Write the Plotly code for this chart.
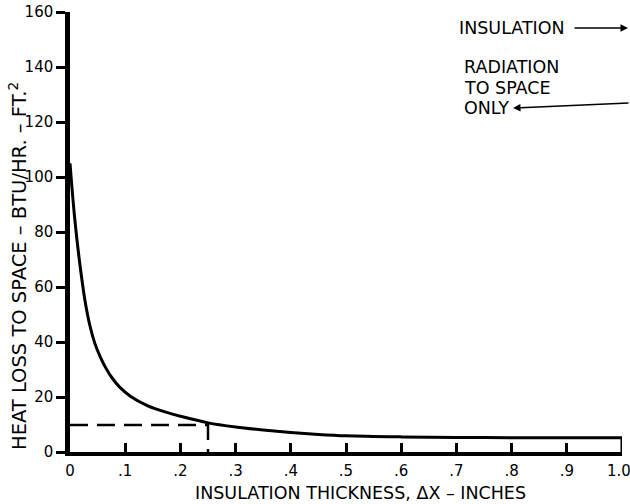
import plotly.graph_objects as go

# ---- data ----
thickness = [0, 0.004, 0.008, 0.0127, 0.02, 0.028, 0.036, 0.045, 0.055, 0.065, 0.076, 0.09,
             0.11, 0.14, 0.175, 0.2, 0.25, 0.3, 0.35, 0.4, 0.45, 0.5, 0.6, 0.7, 0.8, 0.9, 1.0]
heat_loss = [105, 95, 86, 77, 65, 54, 46, 39.5, 34.5, 30.5, 27, 23.6,
             20.2, 16.9, 14.4, 13.0, 10.6, 9.1, 8.0, 7.1, 6.4, 5.9, 5.5, 5.3, 5.2, 5.2, 5.2]
marker_x = 0.25
marker_y = 9.8
x_ticks = [0, 0.1, 0.2, 0.3, 0.4, 0.5, 0.6, 0.7, 0.8, 0.9, 1.0]
x_tick_labels = ["0", ".1", ".2", ".3", ".4", ".5", ".6", ".7", ".8", ".9", "1.0"]
y_ticks = [0, 20, 40, 60, 80, 100, 120, 140, 160]

W, H = 630, 504
ML, MR, MT, MB = 70, 8, 12, 52
PW, PH = W - ML - MR, H - MT - MB


def px(xp):
    return (xp - ML) / PW


def py(yp):
    return (H - MB - yp) / PH


FONT = "DejaVu Sans"
fig = go.Figure()

fig.add_trace(go.Scatter(x=thickness, y=heat_loss, mode="lines",
                         line=dict(color="black", width=3, shape="spline", smoothing=0.9),
                         hoverinfo="skip", showlegend=False))
# closing edge of the band at the right end
fig.add_trace(go.Scatter(x=[thickness[-1], thickness[-1]], y=[heat_loss[-1], 0], mode="lines",
                         line=dict(color="black", width=3), showlegend=False))
# dashed read-off lines
fig.add_trace(go.Scatter(x=[0, marker_x, marker_x], y=[marker_y, marker_y, 0], mode="lines",
                         line=dict(color="black", width=2.5, dash="18px,9px"), showlegend=False))

# the last tick label sits at the page edge; it is drawn as a right-aligned annotation
shown_ticktext = x_tick_labels[:-1] + [""]
fig.update_xaxes(range=[0, 1.0], tickvals=x_ticks, ticktext=shown_ticktext, automargin=False,
                 ticks="inside", ticklen=9, tickwidth=2.5, tickcolor="black",
                 ticklabelstandoff=2,
                 showline=True, linewidth=4, linecolor="black", showgrid=False, zeroline=False,
                 tickfont=dict(family=FONT, size=15, color="black"))
fig.update_yaxes(range=[0, 160], tickvals=y_ticks, automargin=False,
                 ticks="outside", ticklen=9, tickwidth=2.5, tickcolor="black",
                 ticklabeloverflow="allow",
                 showline=True, linewidth=4.5, linecolor="black", showgrid=False, zeroline=False,
                 tickfont=dict(family=FONT, size=15, color="black"))

TS = 17.5
ann = [
    dict(x=x_ticks[-1], y=py(471), xref="x", yref="paper", showarrow=False,
         xanchor="center", yanchor="middle", xshift=-3,
         text=x_tick_labels[-1], font=dict(family=FONT, size=15)),
    dict(x=px(360), y=py(493), xref="paper", yref="paper", showarrow=False,
         xanchor="center", yanchor="middle",
         text="INSULATION THICKNESS, ΔX – INCHES", font=dict(family=FONT, size=TS)),
    dict(x=px(18), y=py(266), xref="paper", yref="paper", showarrow=False, textangle=-90,
         xanchor="center", yanchor="middle",
         text="HEAT LOSS TO SPACE – BTU/HR. – FT.<sup>2</sup>", font=dict(family=FONT, size=19.5)),
    dict(x=px(567), y=py(28), xref="paper", yref="paper", showarrow=False,
         xanchor="right", yanchor="middle",
         text="INSULATION", font=dict(family=FONT, size=TS)),
    dict(x=px(462), y=py(67), xref="paper", yref="paper", showarrow=False,
         xanchor="left", yanchor="middle", text="RADIATION", font=dict(family=FONT, size=TS)),
    dict(x=px(462), y=py(88), xref="paper", yref="paper", showarrow=False,
         xanchor="left", yanchor="middle", text="TO SPACE", font=dict(family=FONT, size=TS)),
    dict(x=px(462), y=py(108), xref="paper", yref="paper", showarrow=False,
         xanchor="left", yanchor="middle", text="ONLY", font=dict(family=FONT, size=TS)),
    dict(x=px(628), y=py(28), xref="paper", yref="paper", showarrow=True, text="",
         ax=-55, ay=0, arrowhead=2, arrowsize=1, arrowwidth=1.5, arrowcolor="black"),
    dict(x=px(513), y=py(108), xref="paper", yref="paper", showarrow=True, text="",
         ax=120, ay=-5, arrowhead=2, arrowsize=1, arrowwidth=1.5, arrowcolor="black"),
]
fig.update_layout(width=W, height=H, margin=dict(l=ML, r=MR, t=MT, b=MB, autoexpand=False),
                  plot_bgcolor="white", paper_bgcolor="white", annotations=ann,
                  font=dict(family=FONT, color="black"))
fig.write_html("out.html")
